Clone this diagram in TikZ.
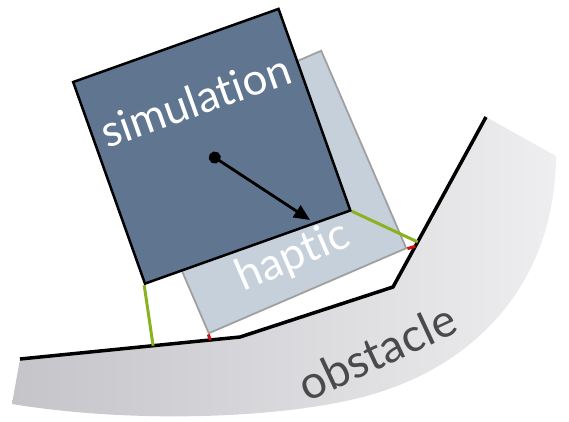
\documentclass[tikz,border=0pt]{standalone}
\usepackage{fontspec}
\setmainfont{Lato}[Ligatures=NoCommon]
\usetikzlibrary{arrows.meta, calc}

\definecolor{simblue}{RGB}{95,117,144}
\definecolor{hapblue}{RGB}{197,208,219}
\definecolor{hapedge}{RGB}{160,160,160}
\definecolor{linkgreen}{RGB}{138,178,30}
\definecolor{gapred}{RGB}{205,20,20}
\definecolor{obsdark}{RGB}{196,196,201}
\definecolor{obslight}{RGB}{238,238,240}
\definecolor{obstext}{RGB}{74,74,74}

\begin{document}
\begin{tikzpicture}[
    x=1pt, y=-1pt,
    simbox/.style={rectangle, draw=black, line width=2.5pt, fill=simblue, minimum width=218pt, minimum height=214pt, inner sep=0pt, rotate=19.6},
    hapbox/.style={rectangle, draw=hapedge, line width=1.8pt, fill=hapblue, minimum size=215pt, inner sep=0pt, rotate=23.3},
    boxtext/.style={text=white, font=\fontsize{44}{52}\selectfont},
    greenlink/.style={draw=linkgreen, line width=3pt},
    redgap/.style={draw=gapred, line width=3pt},
    arrow/.style={{Circle[length=12pt]}-{Triangle[length=16pt, width=14pt]}, line width=2.8pt}
]
\useasboundingbox (0,0) rectangle (569,421);
% obstacle
\coordinate (o1) at (20,359);
\coordinate (o2) at (240,337);
\coordinate (o3) at (393,287);
\coordinate (o4) at (486,117);
\coordinate (o5) at (556,156);
\shade[left color=obsdark, right color=obslight] (o1) -- (o2) -- (o3) -- (o4) -- (o5)
    .. controls (555,280) and (480,360) .. (380,392)
    .. controls (300,418) and (140,425) .. (12,404) -- cycle;
\draw[line width=3.5pt, line join=round] (o1) -- (o2) -- (o3) -- (o4);
\node[rotate=25, text=obstext, font=\fontsize{46}{54}\selectfont] (obs) at (377,352) {obstacle};
% haptic and simulation proxies
\node[hapbox] (hap) at (265,192) {};
\node[boxtext, rotate=23.3] (haplabel) at ($(hap.center)!0.655!(hap.south)$) {haptic};
\node[simbox] (sim) at (211.75,146.25) {};
\node[boxtext, rotate=19.6] (simlabel) at ($(sim.center)!0.45!(sim.north)$) {simulation};
% contacts
\coordinate (c1) at ($(o1)!0.605!(o2)$);
\coordinate (c2) at ($(o3)!0.265!(o4)$);
\coordinate (g1) at ($(o1)!0.865!(o2)$);
\coordinate (g2) at ($(o3)!0.24!(o4)$);
\draw[greenlink] (sim.south west) -- (c1);
\draw[greenlink] (sim.south east) -- (c2);
\draw[redgap] (hap.south west) -- (g1);
\draw[redgap] (hap.south east) -- (g2);
% coupling force
\coordinate (com) at ($(sim.center)+(-2,8)$);
\coordinate (tip) at (310,220);
\draw[arrow] (com) -- (tip);
\end{tikzpicture}
\end{document}
